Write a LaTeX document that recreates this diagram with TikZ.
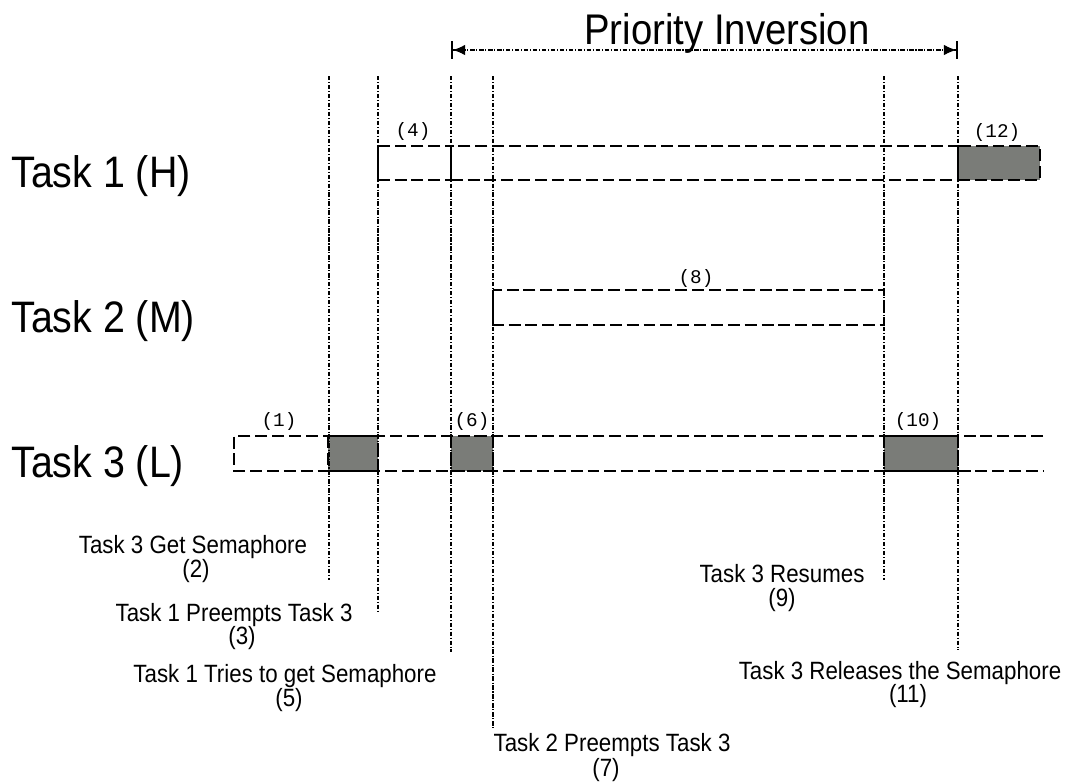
\documentclass[tikz,border=0pt]{standalone}
\usepackage{graphicx}
\usepackage{fontspec}
\setmainfont{Liberation Sans}
\newfontfamily\monof{Liberation Mono}
\usetikzlibrary{arrows.meta}
\definecolor{mygray}{RGB}{122,124,120}
\newcommand{\vs}[1]{\scalebox{1}[1.12]{#1}}
\begin{document}
\begin{tikzpicture}[x=0.02cm,y=-0.02cm,
  bar/.style={dash pattern=on 6.8pt off 2.8pt, line width=1.15pt},
  solidedge/.style={line width=1.15pt},
  vline/.style={line width=0.75pt, dash pattern=on 2.5pt off 1pt on 0.6pt off 1pt},
  tasklbl/.style={font=\fontsize{22.4}{24}\selectfont, anchor=base west, inner sep=0},
  evlbl/.style={font=\fontsize{12.7}{14}\selectfont, anchor=base, inner sep=0},
  numlbl/.style={font=\monof\fontsize{11}{12}\selectfont, anchor=base, inner sep=0},
  shade/.style={fill=mygray}]
\useasboundingbox (0,0) rectangle (1070,782);

% gray (running with semaphore) blocks
\fill[mygray] (328,436) rectangle (378,471);
\fill[mygray] (451,436) rectangle (493,471);
\fill[mygray] (884,436) rectangle (958,471);
\fill[mygray] (958,146) rectangle (1040,180);

% Task 1 bar
\draw[bar] (378,146) rectangle (451,180);
\draw[bar] (451,146) rectangle (958,180);
\draw[bar] (958,146) rectangle (1040,180);
\draw[solidedge] (378,146) -- (378,180);
% Task 2 bar
\draw[bar] (493,290) rectangle (884,325);
\draw[solidedge] (493,290) -- (493,325);
% Task 3 bar
\draw[bar] (1043,436) -- (234,436) -- (234,471) -- (1043,471);
\draw[bar] (328,436) rectangle (378,471);
\draw[bar] (451,436) rectangle (493,471);
\draw[bar] (884,436) rectangle (958,471);

% vertical time markers
\coordinate (t2a) at (329,76);  \coordinate (t2b) at (329,580);
\coordinate (t3a) at (378,76);  \coordinate (t3b) at (378,612);
\coordinate (t5a) at (451,76);  \coordinate (t5b) at (451,652);
\coordinate (t7a) at (493,76);  \coordinate (t7b) at (493,728);
\coordinate (t9a) at (884,76);  \coordinate (t9b) at (884,580);
\coordinate (t11a) at (958,76); \coordinate (t11b) at (958,650);
\foreach \t in {2,3,5,7,9,11} \draw[vline] (t\t a) -- (t\t b);

% priority inversion arrow
\coordinate (pia) at (451,50);
\coordinate (pib) at (958,50);
\draw[vline, line width=0.8pt, {Bar[width=10pt,line width=1pt]Latex[length=7pt,width=6pt]}-{Latex[length=7pt,width=6pt]Bar[width=10pt,line width=1pt]}] (pia) -- (pib);
\node[anchor=base, inner sep=0, font=\fontsize{21.8}{24}\selectfont] (pi) at (727,44) {\vs{Priority Inversion}};

% task labels
\node[tasklbl] (task1) at (11,187) {\vs{Task 1 (H)}};
\node[tasklbl] (task2) at (11,332) {\vs{Task 2 (M)}};
\node[tasklbl] (task3) at (11,477) {\vs{Task 3 (L)}};

% step numbers on bars
\node[numlbl] (n1) at (279,426) {(1)};
\node[numlbl] (n4) at (413,136) {(4)};
\node[numlbl] (n6) at (472,426) {(6)};
\node[numlbl] (n8) at (696,283) {(8)};
\node[numlbl] (n10) at (918,426) {(10)};
\node[numlbl] (n12) at (997,137) {(12)};

% event labels
\node[evlbl] (e2) at (193,553) {\vs{Task 3 Get Semaphore}};
\node[evlbl] (e2n) at (196,577) {\vs{(2)}};
\node[evlbl] (e3) at (234,621) {\vs{Task 1 Preempts Task 3}};
\node[evlbl] (e3n) at (242,644) {\vs{(3)}};
\node[evlbl] (e5) at (285,682) {\vs{Task 1 Tries to get Semaphore}};
\node[evlbl] (e5n) at (289,706) {\vs{(5)}};
\node[evlbl] (e9) at (782,582) {\vs{Task 3 Resumes}};
\node[evlbl] (e9n) at (782,606) {\vs{(9)}};
\node[evlbl] (e11) at (900,679) {\vs{Task 3 Releases the Semaphore}};
\node[evlbl] (e11n) at (908,702) {\vs{(11)}};
\node[evlbl] (e7) at (612,751) {\vs{Task 2 Preempts Task 3}};
\node[evlbl] (e7n) at (606,776) {\vs{(7)}};
\end{tikzpicture}
\end{document}
